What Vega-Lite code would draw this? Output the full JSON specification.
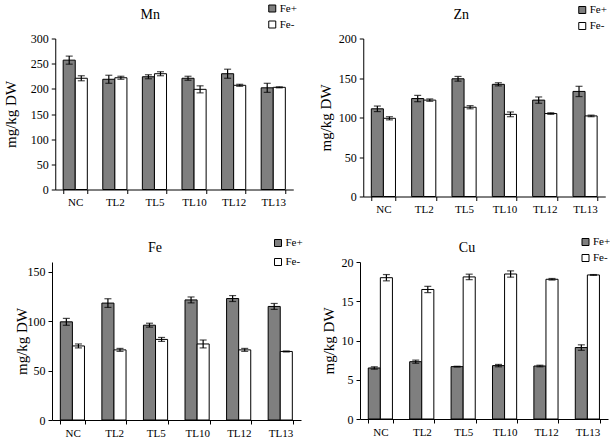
{
  "$schema": "https://vega.github.io/schema/vega-lite/v6.json",
  "padding": {"left": 3, "top": 2.5, "right": 0, "bottom": 0},
  "background": "white",
  "datasets": {
    "d": [
      {"el":"Mn","line":"NC","trt":"Fe+","v":257,"lo":249,"hi":265},
      {"el":"Mn","line":"NC","trt":"Fe-","v":221,"lo":216,"hi":226},
      {"el":"Mn","line":"TL2","trt":"Fe+","v":219,"lo":211,"hi":227},
      {"el":"Mn","line":"TL2","trt":"Fe-","v":222,"lo":219,"hi":225},
      {"el":"Mn","line":"TL5","trt":"Fe+","v":224,"lo":220,"hi":228},
      {"el":"Mn","line":"TL5","trt":"Fe-","v":230,"lo":226,"hi":234},
      {"el":"Mn","line":"TL10","trt":"Fe+","v":221,"lo":217,"hi":225},
      {"el":"Mn","line":"TL10","trt":"Fe-","v":199,"lo":192,"hi":206},
      {"el":"Mn","line":"TL12","trt":"Fe+","v":230,"lo":221,"hi":239},
      {"el":"Mn","line":"TL12","trt":"Fe-","v":207,"lo":205,"hi":209},
      {"el":"Mn","line":"TL13","trt":"Fe+","v":202,"lo":193,"hi":211},
      {"el":"Mn","line":"TL13","trt":"Fe-","v":203,"lo":202,"hi":204},
      {"el":"Zn","line":"NC","trt":"Fe+","v":111,"lo":107.5,"hi":114.5},
      {"el":"Zn","line":"NC","trt":"Fe-","v":99,"lo":97,"hi":101},
      {"el":"Zn","line":"TL2","trt":"Fe+","v":124,"lo":120,"hi":128},
      {"el":"Zn","line":"TL2","trt":"Fe-","v":122,"lo":120.5,"hi":123.5},
      {"el":"Zn","line":"TL5","trt":"Fe+","v":149,"lo":146,"hi":152},
      {"el":"Zn","line":"TL5","trt":"Fe-","v":113,"lo":111,"hi":115},
      {"el":"Zn","line":"TL10","trt":"Fe+","v":142,"lo":140,"hi":144},
      {"el":"Zn","line":"TL10","trt":"Fe-","v":104,"lo":101,"hi":107},
      {"el":"Zn","line":"TL12","trt":"Fe+","v":122,"lo":118,"hi":126},
      {"el":"Zn","line":"TL12","trt":"Fe-","v":105,"lo":104,"hi":106},
      {"el":"Zn","line":"TL13","trt":"Fe+","v":133,"lo":126.5,"hi":139.5},
      {"el":"Zn","line":"TL13","trt":"Fe-","v":102,"lo":101,"hi":103},
      {"el":"Fe","line":"NC","trt":"Fe+","v":99.4,"lo":95.9,"hi":102.9},
      {"el":"Fe","line":"NC","trt":"Fe-","v":75,"lo":73,"hi":77},
      {"el":"Fe","line":"TL2","trt":"Fe+","v":118.4,"lo":114,"hi":122.8},
      {"el":"Fe","line":"TL2","trt":"Fe-","v":71,"lo":69.5,"hi":72.5},
      {"el":"Fe","line":"TL5","trt":"Fe+","v":96,"lo":94,"hi":98},
      {"el":"Fe","line":"TL5","trt":"Fe-","v":81.6,"lo":79.6,"hi":83.6},
      {"el":"Fe","line":"TL10","trt":"Fe+","v":121.6,"lo":118.6,"hi":124.6},
      {"el":"Fe","line":"TL10","trt":"Fe-","v":77,"lo":73,"hi":81},
      {"el":"Fe","line":"TL12","trt":"Fe+","v":123,"lo":120,"hi":126},
      {"el":"Fe","line":"TL12","trt":"Fe-","v":71,"lo":69.5,"hi":72.5},
      {"el":"Fe","line":"TL13","trt":"Fe+","v":115,"lo":112,"hi":118},
      {"el":"Fe","line":"TL13","trt":"Fe-","v":69.4,"lo":68.9,"hi":69.9},
      {"el":"Cu","line":"NC","trt":"Fe+","v":6.5,"lo":6.35,"hi":6.65},
      {"el":"Cu","line":"NC","trt":"Fe-","v":18.0,"lo":17.6,"hi":18.4},
      {"el":"Cu","line":"TL2","trt":"Fe+","v":7.3,"lo":7.1,"hi":7.5},
      {"el":"Cu","line":"TL2","trt":"Fe-","v":16.5,"lo":16.1,"hi":16.9},
      {"el":"Cu","line":"TL5","trt":"Fe+","v":6.67,"lo":6.62,"hi":6.72},
      {"el":"Cu","line":"TL5","trt":"Fe-","v":18.1,"lo":17.75,"hi":18.45},
      {"el":"Cu","line":"TL10","trt":"Fe+","v":6.8,"lo":6.65,"hi":6.95},
      {"el":"Cu","line":"TL10","trt":"Fe-","v":18.47,"lo":18.07,"hi":18.87},
      {"el":"Cu","line":"TL12","trt":"Fe+","v":6.75,"lo":6.65,"hi":6.85},
      {"el":"Cu","line":"TL12","trt":"Fe-","v":17.8,"lo":17.7,"hi":17.9},
      {"el":"Cu","line":"TL13","trt":"Fe+","v":9.1,"lo":8.75,"hi":9.45},
      {"el":"Cu","line":"TL13","trt":"Fe-","v":18.35,"lo":18.3,"hi":18.4}
    ]
  },
  "data": {"name": "d"},
  "resolve": {"scale": {"fill": "independent"}, "legend": {"fill": "independent"}},
  "spacing": 21.5,
  "center": true,
  "vconcat": [
    {
      "spacing": 20,
      "resolve": {"scale": {"fill": "independent"}, "legend": {"fill": "independent"}},
      "hconcat": [
        {
          "width": 238, "height": 151,
          "title": {"text": "Mn", "dx": -24, "offset": -19},
          "transform": [{"filter": "datum.el === 'Mn'"}],
          "encoding": {
            "x": {"field": "line", "type": "nominal", "sort": ["NC","TL2","TL5","TL10","TL12","TL13"], "scale": {"paddingInner": 0.39, "paddingOuter": 0.2}, "axis": {"title": null}},
            "xOffset": {"field": "trt", "type": "nominal", "sort": ["Fe+","Fe-"]}
          },
          "layer": [
            {"mark": {"type": "bar", "stroke": "black", "strokeWidth": 1},
             "encoding": {
               "y": {"field": "v", "type": "quantitative", "title": "mg/kg DW", "scale": {"domain": [0, 300]}, "axis": {"values": [0,50,100,150,200,250,300], "titlePadding": 12}},
               "fill": {"field": "trt", "type": "nominal", "sort": ["Fe+","Fe-"], "scale": {"domain": ["Fe+","Fe-"], "range": ["#7f7f7f","#ffffff"]}, "legend": {"orient": "none", "legendX": 211.5, "legendY": -35.5, "rowPadding": 4}}
             }},
            {"mark": {"type": "rule", "color": "black", "strokeWidth": 1.2}, "encoding": {"y": {"field": "lo", "type": "quantitative", "title": "mg/kg DW", "axis": {"values": [0,50,100,150,200,250,300], "titlePadding": 12}}, "y2": {"field": "hi"}}},
            {"mark": {"type": "tick", "color": "black", "size": 7, "thickness": 1.2}, "encoding": {"y": {"field": "lo", "type": "quantitative", "title": "mg/kg DW", "axis": {"values": [0,50,100,150,200,250,300], "titlePadding": 12}}}},
            {"mark": {"type": "tick", "color": "black", "size": 7, "thickness": 1.2}, "encoding": {"y": {"field": "hi", "type": "quantitative", "title": "mg/kg DW", "axis": {"values": [0,50,100,150,200,250,300], "titlePadding": 12}}}}
          ]
        },
        {
          "width": 242, "height": 158,
          "title": {"text": "Zn", "dx": -23, "offset": -17.5},
          "transform": [{"filter": "datum.el === 'Zn'"}],
          "encoding": {
            "x": {"field": "line", "type": "nominal", "sort": ["NC","TL2","TL5","TL10","TL12","TL13"], "scale": {"paddingInner": 0.4, "paddingOuter": 0.2}, "axis": {"title": null}},
            "xOffset": {"field": "trt", "type": "nominal", "sort": ["Fe+","Fe-"]}
          },
          "layer": [
            {"mark": {"type": "bar", "stroke": "black", "strokeWidth": 1},
             "encoding": {
               "y": {"field": "v", "type": "quantitative", "title": "mg/kg DW", "scale": {"domain": [0, 200]}, "axis": {"values": [0,50,100,150,200], "titlePadding": 5}},
               "fill": {"field": "trt", "type": "nominal", "sort": ["Fe+","Fe-"], "scale": {"domain": ["Fe+","Fe-"], "range": ["#7f7f7f","#ffffff"]}, "legend": {"orient": "none", "legendX": 213.5, "legendY": -34, "rowPadding": 4}}
             }},
            {"mark": {"type": "rule", "color": "black", "strokeWidth": 1.2}, "encoding": {"y": {"field": "lo", "type": "quantitative", "title": "mg/kg DW", "axis": {"values": [0,50,100,150,200], "titlePadding": 5}}, "y2": {"field": "hi"}}},
            {"mark": {"type": "tick", "color": "black", "size": 7, "thickness": 1.2}, "encoding": {"y": {"field": "lo", "type": "quantitative", "title": "mg/kg DW", "axis": {"values": [0,50,100,150,200], "titlePadding": 5}}}},
            {"mark": {"type": "tick", "color": "black", "size": 7, "thickness": 1.2}, "encoding": {"y": {"field": "hi", "type": "quantitative", "title": "mg/kg DW", "axis": {"values": [0,50,100,150,200], "titlePadding": 5}}}}
          ]
        }
      ]
    },
    {
      "spacing": 17,
      "resolve": {"scale": {"fill": "independent"}, "legend": {"fill": "independent"}},
      "hconcat": [
        {
          "width": 249, "height": 158,
          "title": {"text": "Fe", "dx": -21.5, "offset": -17.5},
          "transform": [{"filter": "datum.el === 'Fe'"}],
          "encoding": {
            "x": {"field": "line", "type": "nominal", "sort": ["NC","TL2","TL5","TL10","TL12","TL13"], "scale": {"paddingInner": 0.41, "paddingOuter": 0.2}, "axis": {"title": null}},
            "xOffset": {"field": "trt", "type": "nominal", "sort": ["Fe+","Fe-"]}
          },
          "layer": [
            {"mark": {"type": "bar", "stroke": "black", "strokeWidth": 1},
             "encoding": {
               "y": {"field": "v", "type": "quantitative", "title": "mg/kg DW", "scale": {"domain": [0, 150]}, "axis": {"values": [0,50,100,150], "titlePadding": -2}},
               "fill": {"field": "trt", "type": "nominal", "sort": ["Fe+","Fe-"], "scale": {"domain": ["Fe+","Fe-"], "range": ["#7f7f7f","#ffffff"]}, "legend": {"orient": "none", "legendX": 220.5, "legendY": -24.5, "rowPadding": 7}}
             }},
            {"mark": {"type": "rule", "color": "black", "strokeWidth": 1.2}, "encoding": {"y": {"field": "lo", "type": "quantitative", "title": "mg/kg DW", "axis": {"values": [0,50,100,150], "titlePadding": -2}}, "y2": {"field": "hi"}}},
            {"mark": {"type": "tick", "color": "black", "size": 7, "thickness": 1.2}, "encoding": {"y": {"field": "lo", "type": "quantitative", "title": "mg/kg DW", "axis": {"values": [0,50,100,150], "titlePadding": -2}}}},
            {"mark": {"type": "tick", "color": "black", "size": 7, "thickness": 1.2}, "encoding": {"y": {"field": "hi", "type": "quantitative", "title": "mg/kg DW", "axis": {"values": [0,50,100,150], "titlePadding": -2}}}}
          ]
        },
        {
          "width": 248, "height": 157,
          "title": {"text": "Cu", "dx": -17, "offset": -18.5},
          "transform": [{"filter": "datum.el === 'Cu'"}],
          "encoding": {
            "x": {"field": "line", "type": "nominal", "sort": ["NC","TL2","TL5","TL10","TL12","TL13"], "scale": {"paddingInner": 0.41, "paddingOuter": 0.2}, "axis": {"title": null}},
            "xOffset": {"field": "trt", "type": "nominal", "sort": ["Fe+","Fe-"]}
          },
          "layer": [
            {"mark": {"type": "bar", "stroke": "black", "strokeWidth": 1},
             "encoding": {
               "y": {"field": "v", "type": "quantitative", "title": "mg/kg DW", "scale": {"domain": [0, 20]}, "axis": {"values": [0,5,10,15,20], "titlePadding": 5}},
               "fill": {"field": "trt", "type": "nominal", "sort": ["Fe+","Fe-"], "scale": {"domain": ["Fe+","Fe-"], "range": ["#7f7f7f","#ffffff"]}, "legend": {"orient": "none", "legendX": 220, "legendY": -25.5, "rowPadding": 4}}
             }},
            {"mark": {"type": "rule", "color": "black", "strokeWidth": 1.2}, "encoding": {"y": {"field": "lo", "type": "quantitative", "title": "mg/kg DW", "axis": {"values": [0,5,10,15,20], "titlePadding": 5}}, "y2": {"field": "hi"}}},
            {"mark": {"type": "tick", "color": "black", "size": 7, "thickness": 1.2}, "encoding": {"y": {"field": "lo", "type": "quantitative", "title": "mg/kg DW", "axis": {"values": [0,5,10,15,20], "titlePadding": 5}}}},
            {"mark": {"type": "tick", "color": "black", "size": 7, "thickness": 1.2}, "encoding": {"y": {"field": "hi", "type": "quantitative", "title": "mg/kg DW", "axis": {"values": [0,5,10,15,20], "titlePadding": 5}}}}
          ]
        }
      ]
    }
  ],
  "config": {
    "font": "Liberation Serif",
    "view": {"stroke": null},
    "title": {"font": "Liberation Serif", "fontSize": 14, "fontWeight": "normal", "color": "black", "anchor": "middle", "baseline": "bottom"},
    "axis": {"grid": false, "domainColor": "black", "domainWidth": 1, "tickColor": "black", "tickWidth": 1, "tickSize": 4, "labelFont": "Liberation Serif", "labelColor": "black", "titleFont": "Liberation Serif", "titleFontSize": 15, "titleFontWeight": "normal", "titleColor": "black", "labelOverlap": false},
    "axisX": {"labelAngle": 0, "labelFontSize": 11, "tickBand": "extent", "labelPadding": 3},
    "axisY": {"labelFontSize": 12, "labelPadding": 3},
    "legend": {"title": null, "symbolType": "square", "symbolSize": 49, "symbolStrokeColor": "black", "symbolStrokeWidth": 1, "labelFont": "Liberation Serif", "labelFontSize": 11, "labelColor": "black", "labelOffset": 2, "padding": 0}
  }
}
